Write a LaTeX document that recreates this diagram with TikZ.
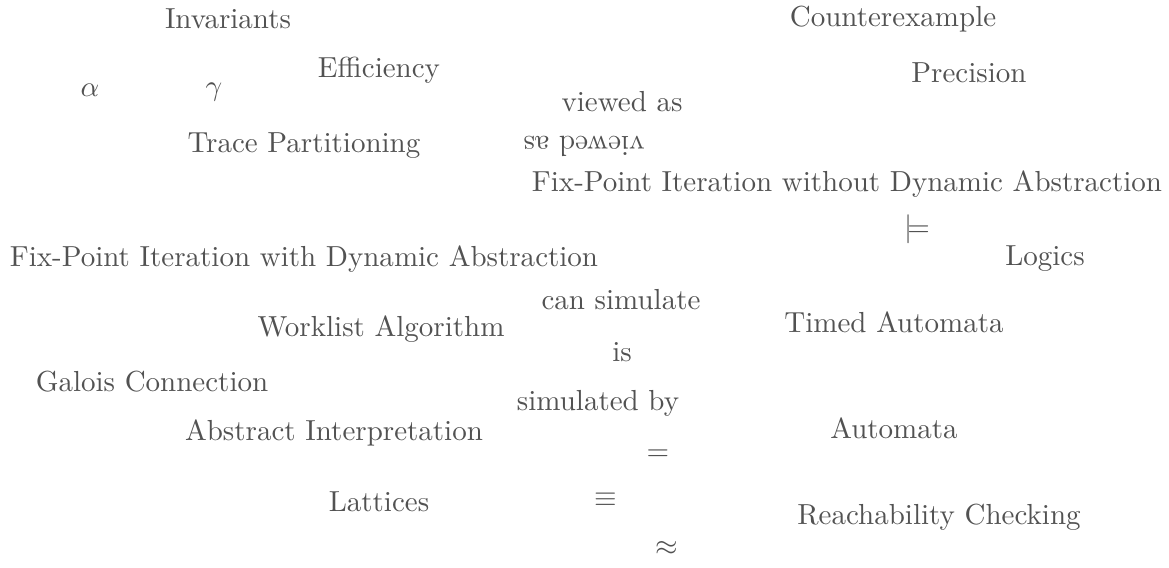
\documentclass[tikz,border=0pt]{standalone}
\usepackage{xcolor}
\usepackage{tikz}
\usepackage{amssymb}
\usetikzlibrary{positioning}
\tikzstyle{concept} = [text=black!68, inner sep=1pt, font=\normalsize]
\tikzstyle{relation} = [text=black!68, inner sep=1pt, font=\normalsize]

\begin{document}
\begin{tikzpicture}[x=0.01212cm, y=-0.01212cm]
    \useasboundingbox (0,0) rectangle (1169,568);

    % === LEFT: abstract interpretation side ===
    \node[concept] (invariants) at (228,19) {Invariants};
    \node[concept] (alpha) at (90,90) {$\alpha$};
    \node[concept] (gamma) at (214,92) {$\gamma$};
    \node[concept] (efficiency) at (379,70) {Efficiency};
    \node[concept] (tracepart) at (304,146) {Trace Partitioning};
    \node[concept] (fpwith) at (304,259) {Fix-Point Iteration with Dynamic Abstraction};
    \node[concept] (worklist) at (381,329) {Worklist Algorithm};
    \node[concept] (galois) at (152,382) {Galois Connection};
    \node[concept] (absint) at (334,433) {Abstract Interpretation};
    \node[concept] (lattices) at (379,502) {Lattices};

    % === MIDDLE: relations ===
    \node[relation] (viewed) at (622,102) {viewed as};
    \node[relation, rotate=180] (viewedinv) at (584,146) {viewed as};
    \node[relation] (cansim) at (621,300) {can simulate};
    \node[relation] (is) at (622,352) {is};
    \node[relation] (simby) at (598,403) {simulated by};
    \node[relation] (eq) at (658,455) {$=$};
    \node[relation] (equiv) at (606,500) {$\equiv$};
    \node[relation] (approx) at (667,548) {$\approx$};

    % === RIGHT: model checking side ===
    \node[concept] (cex) at (893,19) {Counterexample};
    \node[concept] (precision) at (969,73) {Precision};
    \node[concept] (fpwithout) at (847,184) {Fix-Point Iteration without Dynamic Abstraction};
    \node[relation] (models) at (917,229) {$\models$};
    \node[concept] (logics) at (1045,259) {Logics};
    \node[concept] (timed) at (894,322) {Timed Automata};
    \node[concept] (automata) at (894,428) {Automata};
    \node[concept] (reach) at (939,517) {Reachability Checking};
\end{tikzpicture}
\end{document}
